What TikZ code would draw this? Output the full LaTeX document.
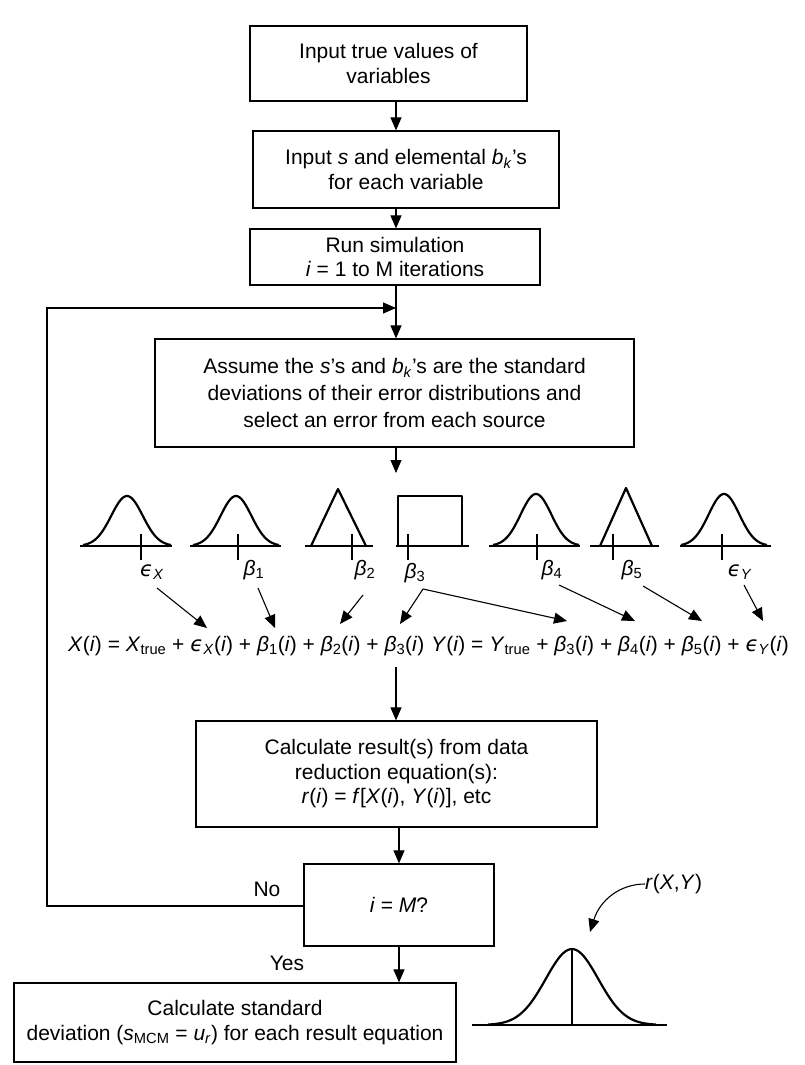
\documentclass[tikz,border=0pt]{standalone}
\usepackage{fontspec}
\setmainfont{Liberation Sans}
\newfontfamily\dejavu{DejaVu Sans}
\usetikzlibrary{arrows.meta}
\newcommand{\epsl}{{\dejavu\itshape ϵ}}
\newcommand{\iv}[1]{\textit{#1}}
\newcommand{\sbs}[1]{\textsubscript{#1}}
\newcommand{\gaussat}[5]{\draw[curve] plot[domain=-1:1,samples=60,smooth] ({#1+#2*\x},{#4-#3*exp(-(\x*#5)*(\x*#5)/2)});}
\begin{document}
\begin{tikzpicture}[x=1pt,y=-1pt,
  box/.style={draw, line width=1.2pt, align=center, inner sep=0pt, font=\fontsize{21}{24.5}\selectfont},
  arr/.style={line width=1.1pt, -{Triangle[length=13pt,width=11pt]}},
  curve/.style={line width=2.2pt, line join=round},
  base/.style={line width=1.1pt},
  lbl/.style={font=\fontsize{21}{24}\selectfont, inner sep=0pt},
  eqn/.style={font=\fontsize{21}{24}\selectfont, inner sep=0pt}]
\useasboundingbox[fill=white] (0,0) rectangle (805,1065);

\coordinate (sp) at (396,0);

% boxes
\node[box, minimum width=277pt, minimum height=75pt] (b1) at (388.5,63.5) {Input true values of\\variables};
\node[box, minimum width=306pt, minimum height=77pt] (b2) at (406,169.5) {Input \iv{s} and elemental \iv{b}\sbs{\iv{k}}’s\\for each variable};
\node[box, minimum width=290pt, minimum height=56pt] (b3) at (395,257) {Run simulation\\\iv{i} = 1 to M iterations};
\node[box, minimum width=479pt, minimum height=108pt, font=\fontsize{21}{27}\selectfont] (b4) at (394.5,393) {Assume the \iv{s}’s and \iv{b}\sbs{\iv{k}}’s are the standard\\deviations of their error distributions and\\select an error from each source};
\node[box, minimum width=401pt, minimum height=106pt] (b5) at (396.5,774) {Calculate result(s) from data\\reduction equation(s):\\\iv{r}(\iv{i}) = \iv{f}[\iv{X}(\iv{i}), \iv{Y}(\iv{i})], etc};
\node[box, minimum width=190pt, minimum height=82pt] (b6) at (399,905) {\iv{i} = \iv{M}?};
\node[box, minimum width=442pt, minimum height=79pt] (b7) at (235,1022.5) {Calculate standard\\deviation (\iv{s}\sbs{MCM} = \iv{u}\sbs{\iv{r}}) for each result equation};

% main connectors
\draw[arr] (b1.south -| sp) -- (b2.north -| sp);
\draw[arr] (b2.south -| sp) -- (b3.north -| sp);
\draw[arr] (b3.south -| sp) -- (b4.north -| sp);
\coordinate (dtip) at (396,473);
\draw[arr] (b4.south -| sp) -- (dtip);
\coordinate (eqs) at (396,667);
\draw[arr] (eqs) -- (b5.north -| sp);
\draw[arr] (b5.south -| b6) -- (b6.north);
\draw[arr] (b6.south) -- (b6.south |- b7.north);
\coordinate (lx) at (47,906);
\coordinate (lt) at (396,308);
\draw[arr] (b6.west |- lx) -- (lx) |- (lt);
\node[lbl] (no) at (267,889) {No};
\node[lbl] (yes) at (287,963) {Yes};

% distributions
% eps_X
\draw[base] (80,546) -- (172,546);
\gaussat{127}{44}{50}{546}{2.8}
\draw[base] (141,534) -- (141,560);
% beta1
\draw[base] (190,546) -- (281,546);
\gaussat{236}{43}{50}{546}{2.8}
\draw[base] (238,534) -- (238,560);
% beta2 triangle
\draw[base] (305,546) -- (373,546);
\draw[curve] (311,546) -- (338,489) -- (366,546);
\draw[base] (352,534) -- (352,560);
% beta3 rectangle
\draw[base] (396,546) -- (469,546);
\draw[curve] (398,546) -- (398,496) -- (462,496) -- (462,546);
\draw[base] (408,534) -- (408,560);
% beta4
\draw[base] (489,546) -- (580,546);
\gaussat{536}{43}{52}{546}{2.8}
\draw[base] (537,534) -- (537,560);
% beta5 triangle
\draw[base] (590,546) -- (659,546);
\draw[curve] (600,546) -- (626,488) -- (652,546);
\draw[base] (613,534) -- (613,560);
% eps_Y
\draw[base] (680,546) -- (771,546);
\gaussat{724}{43}{52}{546}{2.8}
\draw[base] (722,534) -- (722,560);

% labels
\node[lbl] (lX) at (152,572) {\epsl\sbs{\iv{X}}};
\node[lbl] (l1) at (254,570) {\iv{β}\sbs{1}};
\node[lbl] (l2) at (365,570) {\iv{β}\sbs{2}};
\node[lbl] (l3) at (415,573) {\iv{β}\sbs{3}};
\node[lbl] (l4) at (552,570) {\iv{β}\sbs{4}};
\node[lbl] (l5) at (632,570) {\iv{β}\sbs{5}};
\node[lbl] (lY) at (740,572) {\epsl\sbs{\iv{Y}}};

% equations
\node[eqn, anchor=west] (eqX) at (68,646) {\iv{X}(\iv{i}) = \iv{X}\sbs{true} + \epsl\sbs{\iv{X}}(\iv{i}) + \iv{β}\sbs{1}(\iv{i}) + \iv{β}\sbs{2}(\iv{i}) + \iv{β}\sbs{3}(\iv{i})};
\node[eqn, anchor=east] (eqY) at (789,646) {\iv{Y}(\iv{i}) = \iv{Y}\sbs{true} + \iv{β}\sbs{3}(\iv{i}) + \iv{β}\sbs{4}(\iv{i}) + \iv{β}\sbs{5}(\iv{i}) + \epsl\sbs{\iv{Y}}(\iv{i})};

% arrows to equations
\coordinate (sX) at (157,588); \coordinate (tX) at (207,628);
\coordinate (s1) at (258,588); \coordinate (t1) at (275,628);
\coordinate (s2) at (363,595); \coordinate (t2) at (340,624);
\coordinate (s3) at (423,589); \coordinate (t3a) at (400,624); \coordinate (t3b) at (567,621);
\coordinate (s4) at (559,585); \coordinate (t4) at (635,621);
\coordinate (s5) at (643,586); \coordinate (t5) at (702,621);
\coordinate (sY) at (744,585); \coordinate (tY) at (763,621);
\draw[arr] (sX) -- (tX);
\draw[arr] (s1) -- (t1);
\draw[arr] (s2) -- (t2);
\draw[arr] (s3) -- (t3a);
\draw[arr] (s3) -- (t3b);
\draw[arr] (s4) -- (t4);
\draw[arr] (s5) -- (t5);
\draw[arr] (sY) -- (tY);

% result distribution
\draw[base] (472,1025) -- (667,1025);
\gaussat{572}{84}{76}{1025}{3.2}
\draw[base] (572,949) -- (572,1025);
\node[lbl, anchor=west] (rl) at (645,884) {\iv{r}(\iv{X},\iv{Y})};
\coordinate (rtip) at (590,932);
\draw[arr] (rl.west) .. controls (620,884) and (600,900) .. (rtip);
\end{tikzpicture}
\end{document}
